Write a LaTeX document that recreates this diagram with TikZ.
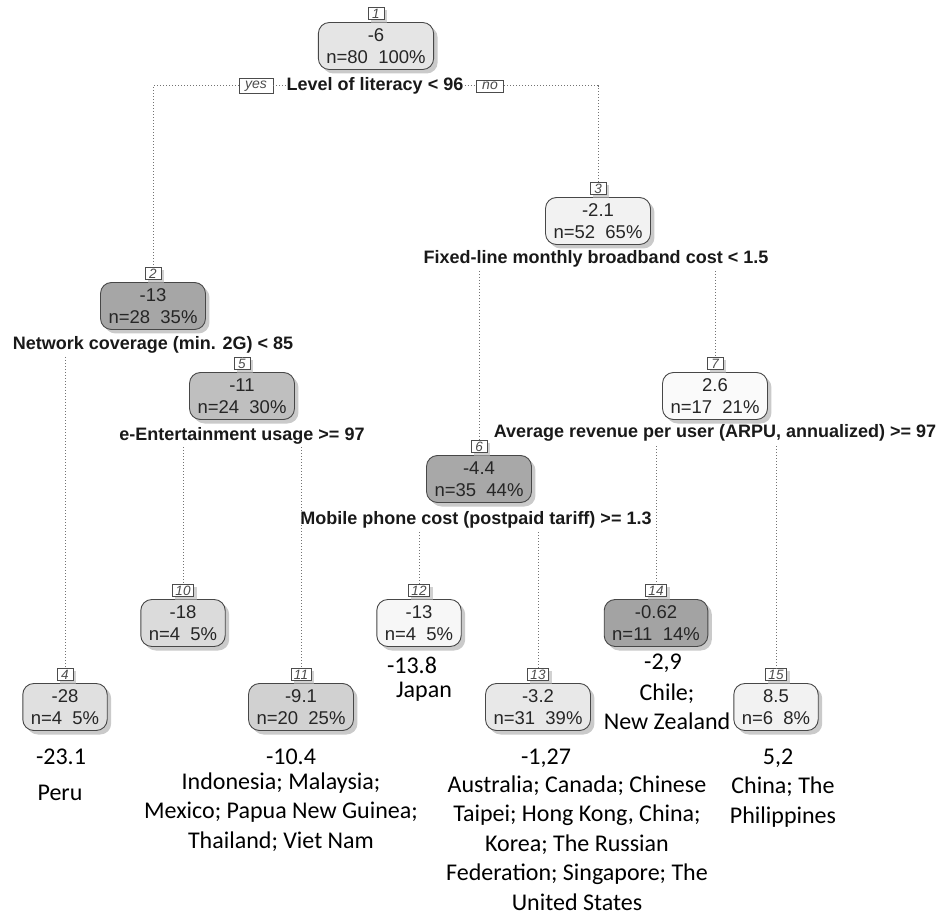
\documentclass[tikz,border=0pt]{standalone}
\usepackage{fontspec}
\setmainfont{Liberation Sans}
\newfontfamily\annfont{Carlito}
\usetikzlibrary{shadows}
\tikzset{
  tnode/.style={draw=black!72, line width=0.9pt, rounded corners=11pt, align=center,
    font=\fontsize{18.5}{22}\selectfont, inner xsep=8pt, inner ysep=1pt, minimum height=47pt,
    text=black!85,
    drop shadow={shadow xshift=4pt, shadow yshift=-4pt, fill=black!35, opacity=0.6}},
  tag/.style={draw=black!70, fill=white, line width=0.6pt, font=\fontsize{13.5}{13.5}\selectfont\itshape,
    inner xsep=3pt, inner ysep=1.5pt, minimum width=16pt, text=black!70,
    drop shadow={shadow xshift=3pt, shadow yshift=-3pt, fill=black!30, opacity=0.6}},
  yn/.style={draw=black!70, fill=white, line width=0.6pt, font=\fontsize{14}{14}\selectfont\itshape,
    inner xsep=6pt, inner ysep=2pt, text=black!70},
  split/.style={font=\fontsize{18}{18}\selectfont\bfseries, inner sep=1pt, text=black!90},
  ann/.style={font=\annfont\fontsize{24}{29.5}\selectfont, align=center, inner sep=0pt},
  branch/.style={draw=black!55, dotted, line width=1pt}
}
\begin{document}
\begin{tikzpicture}[x=1pt,y=-1pt]
\useasboundingbox (0,0) rectangle (943,917);
% boxes
\node[tnode, fill=black!10] (n1) at (376,46) {-6\\n=80\ \ 100\%};
\node[tnode, fill=black!35] (n2) at (153,306) {-13\\n=28\ \ 35\%};
\node[tnode, fill=black!5] (n3) at (598,221) {-2.1\\n=52\ \ 65\%};
\node[tnode, fill=black!25] (n5) at (242,396) {-11\\n=24\ \ 30\%};
\node[tnode, fill=black!2] (n7) at (715,396) {2.6\\n=17\ \ 21\%};
\node[tnode, fill=black!34] (n6) at (479,479) {-4.4\\n=35\ \ 44\%};
\node[tnode, fill=black!14] (n10) at (183,623) {-18\\n=4\ \ 5\%};
\node[tnode, fill=black!3] (n12) at (419,623) {-13\\n=4\ \ 5\%};
\node[tnode, fill=black!36] (n14) at (656,623) {-0.62\\n=11\ \ 14\%};
\node[tnode, fill=black!12] (n4) at (65,707) {-28\\n=4\ \ 5\%};
\node[tnode, fill=black!18] (n11) at (301,707) {-9.1\\n=20\ \ 25\%};
\node[tnode, fill=black!9] (n13) at (538,707) {-3.2\\n=31\ \ 39\%};
\node[tnode, fill=black!5] (n15) at (776,707) {8.5\\n=6\ \ 8\%};
% tags
\foreach \n in {1,2,3,4,5,6,7,10,11,12,13,14,15}{
  \node[tag, anchor=south] (t\n) at ([yshift=2pt]n\n.north) {\n};
}
% split labels
\node[split] (s1) at (375,86) {Level of literacy < 96};
\node[yn] (yes) at (256,86) {yes};
\node[yn] (no) at (490,86) {no};
\node[split] (s2) at (153,345) {Network coverage (min. 2G) < 85};
\node[split] (s3) at (596,259) {Fixed-line monthly broadband cost < 1.5};
\node[split] (s5) at (242,436) {e-Entertainment usage >= 97};
\node[split] (s7) at (715,433) {Average revenue per user (ARPU, annualized) >= 97};
\node[split] (s6) at (476,520) {Mobile phone cost (postpaid tariff) >= 1.3};
\coordinate (b2) at (0,357);
\coordinate (b3) at (0,271);
\coordinate (b5) at (0,447);
\coordinate (b7) at (0,446);
\coordinate (b6) at (0,532);
% branches
\draw[branch] (yes.east) -- (s1.west);
\draw[branch] (s1.east) -- (no.west);
\draw[branch] (yes.west) -| (t2.north);
\draw[branch] (no.east) -| (t3.north);
\draw[branch] (t4.north |- b2) -- (t4.north);
\draw[branch] (t5.north |- b2) -- (t5.north);
\draw[branch] (t6.north |- b3) -- (t6.north);
\draw[branch] (t7.north |- b3) -- (t7.north);
\draw[branch] (t10.north |- b5) -- (t10.north);
\draw[branch] (t11.north |- b5) -- (t11.north);
\draw[branch] (t14.north |- b7) -- (t14.north);
\draw[branch] (t15.north |- b7) -- (t15.north);
\draw[branch] (t12.north |- b6) -- (t12.north);
\draw[branch] (t13.north |- b6) -- (t13.north);
% annotations
\node[ann] (a4v) at (61,757) {-23.1};
\node[ann] (a4c) at (60,793) {Peru};
\node[ann] (a11v) at (291,757) {-10.4};
\node[ann] (a11c) at (281,812) {Indonesia; Malaysia;\\Mexico; Papua New Guinea;\\Thailand; Viet Nam};
\node[ann] (a12v) at (412,665) {-13.8};
\node[ann] (a12c) at (424,692) {Japan};
\node[ann] (a14v) at (663,663) {-2,9};
\node[ann] (a14c) at (667,707) {Chile;\\New Zealand};
\node[ann] (a13v) at (546,758) {-1,27};
\node[ann] (a13c) at (577,843) {Australia; Canada; Chinese\\Taipei; Hong Kong, China;\\Korea; The Russian\\Federation; Singapore; The\\United States};
\node[ann] (a15v) at (778,758) {5,2};
\node[ann] (a15c) at (783,802) {China; The\\Philippines};
\end{tikzpicture}
\end{document}
